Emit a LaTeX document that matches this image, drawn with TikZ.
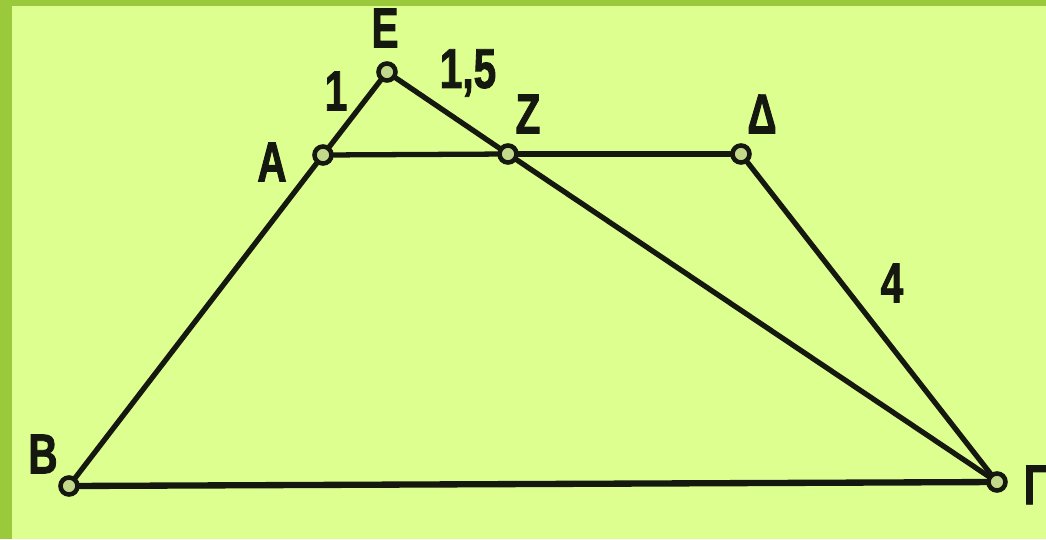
\documentclass[tikz,border=0pt]{standalone}
\usepackage{fontspec}
\setmainfont{Liberation Sans}[FakeStretch=0.72, BoldFeatures={FakeBold=1.5}]
\usepackage{xcolor}
\definecolor{framegreen}{HTML}{9ACA3C}
\definecolor{paper}{HTML}{DCFF90}
\definecolor{ink}{HTML}{14180F}
\definecolor{ptfill}{HTML}{C2D88A}
\usepackage{tikz}
\usetikzlibrary{positioning,calc}
\tikzset{
  pt/.style={circle, draw=ink, fill=ptfill, line width=2.6pt,
             minimum size=0.34cm, inner sep=0pt},
  side/.style={draw=ink, line width=3pt, line cap=round},
  base/.style={draw=ink, line width=3.6pt, line cap=round},
  lbl/.style={font=\fontsize{32}{36}\selectfont\bfseries, text=ink,
              inner sep=0pt, anchor=center},
}

\begin{document}
\begin{tikzpicture}[x=0.02cm, y=-0.02cm]
  % Frame
  \useasboundingbox (0,0) rectangle (1046,539);
  \fill[framegreen] (0,0) rectangle (1046,539);
  \fill[paper] (12,6) rectangle (1046,539);

  % Points
  \node[pt] (E) at (387,72)  {};
  \node[pt] (A) at (323,155) {};
  \node[pt] (Z) at (508,154) {};
  \node[pt] (D) at (741,154) {};
  \node[pt] (B) at (69,486)  {};
  \node[pt] (G) at (997,482) {};

  % Sides
  \draw[side] (E) -- (A);
  \draw[side] (A) -- (B);
  \draw[side] (E) -- (Z);
  \draw[side] (Z) -- (G);
  \draw[side] (A) -- (Z);
  \draw[side] (Z) -- (D);
  \draw[side] (D) -- (G);
  \draw[base] (B) -- (G);

  % Labels
  \node[lbl] (lE) at (385,28)   {E};
  \node[lbl] (lA) at (272,162)  {A};
  \node[lbl] (lZ) at (528,114)  {Z};
  \node[lbl] (lD) at (762,114)  {Δ};
  \node[lbl] (lB) at (43,454)   {B};
  \node[lbl] (lG) at (1036,485) {Γ};

  \node[lbl] (lEA) at (336,91)  {1};
  \node[lbl] (lEZ) at (468,73)  {1,5};
  \node[lbl] (lDG) at (892,283) {4};
\end{tikzpicture}
\end{document}
